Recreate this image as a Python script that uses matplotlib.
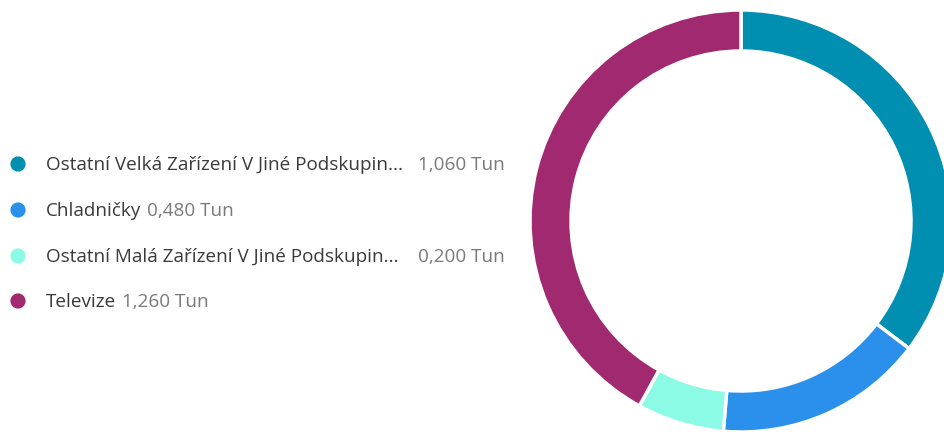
import matplotlib.pyplot as plt

plt.rcParams['font.family'] = ['Open Sans', 'DejaVu Sans']

# data
labels = ['Ostatní Velká Zařízení V Jiné Podskupin...', 'Chladničky',
          'Ostatní Malá Zařízení V Jiné Podskupin...', 'Televize']
values = [1.060, 0.480, 0.200, 1.260]
value_texts = ['1,060 Tun', '0,480 Tun', '0,200 Tun', '1,260 Tun']
colors = ['#008FB0', '#2B90EC', '#8CFBE5', '#A1296F']

W, H = 944, 435
fig = plt.figure(figsize=(W / 100, H / 100), dpi=100)

# donut
cx, cy, r = 741, 222, 211
ax = fig.add_axes([(cx - r) / W, (H - cy - r) / H, 2 * r / W, 2 * r / H])
ax.pie(values, colors=colors, startangle=90, counterclock=False, radius=1,
       wedgeprops=dict(width=41 / 211, edgecolor='white', linewidth=2.5))
ax.set_xlim(-1, 1)
ax.set_ylim(-1, 1)
ax.set_aspect('equal')
ax.axis('off')

# legend
lax = fig.add_axes([0, 0, 1, 1])
lax.set_xlim(0, W)
lax.set_ylim(H, 0)
lax.axis('off')
renderer = fig.canvas.get_renderer()
rows_y = [165, 211, 257, 302]
value_x = [418, None, 418, None]
fs = 13.6
for i, (lab, vt, c, y) in enumerate(zip(labels, value_texts, colors, rows_y)):
    lax.scatter([18], [y], s=120, color=c, edgecolors='none')
    t = lax.text(46, y, lab, fontsize=fs, color='#3a3a3a', va='center', ha='left')
    if value_x[i] is None:
        bb = t.get_window_extent(renderer=renderer)
        vx = bb.x1 + 6
    else:
        vx = value_x[i]
    lax.text(vx, y, vt, fontsize=fs, color='#7a7a7a', va='center', ha='left')

fig.savefig('out.png', dpi=100)
